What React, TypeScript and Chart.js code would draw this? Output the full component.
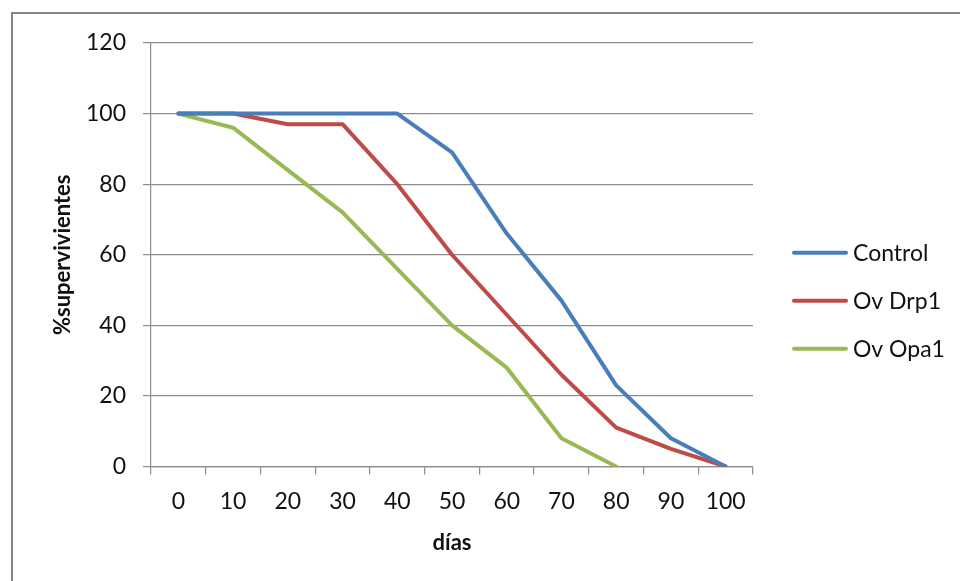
import React, { useEffect, useRef } from "react";
import { Chart, registerables } from "chart.js";

Chart.register(...registerables);

const dias = ["0", "10", "20", "30", "40", "50", "60", "70", "80", "90", "100"];
const control = [100, 100, 100, 100, 100, 89, 66, 47, 23, 8, 0];
const ovDrp1 = [100, 100, 97, 97, 80, 60, 43, 26, 11, 5, 0];
const ovOpa1 = [100, 96, 84, 72, 56, 40, 28, 8, 0, null, null];

const FONT = "Lato, 'Open Sans', 'Liberation Sans', sans-serif";
const GRID = "#8c8c8c";
const TEXT = "#111111";

// Outer frame around the chart object
const framePlugin = {
  id: "frame",
  beforeDraw(chart: any) {
    const ctx = chart.ctx;
    ctx.save();
    ctx.fillStyle = "#ffffff";
    ctx.fillRect(0, 0, chart.width, chart.height);
    ctx.strokeStyle = "#868686";
    ctx.lineWidth = 2;
    ctx.strokeRect(12, 13, chart.width + 100, chart.height + 100);
    ctx.restore();
  },
};

// Legend drawn to the right of the plot area
const sideLegendPlugin = {
  id: "sideLegend",
  afterDraw(chart: any) {
    const { ctx, chartArea } = chart;
    const x0 = chartArea.right + 41;
    const x1 = x0 + 52;
    const yStart = (chartArea.top + chartArea.bottom) / 2 - 2;
    ctx.save();
    ctx.font = `23px ${FONT}`;
    ctx.textBaseline = "middle";
    ctx.textAlign = "left";
    chart.data.datasets.forEach((ds: any, i: number) => {
      const y = yStart + i * 48;
      ctx.strokeStyle = ds.borderColor;
      ctx.lineWidth = 4;
      ctx.lineCap = "round";
      ctx.beginPath();
      ctx.moveTo(x0, y);
      ctx.lineTo(x1, y);
      ctx.stroke();
      ctx.fillStyle = TEXT;
      ctx.fillText(ds.label, x1 + 7, y + 1);
    });
    ctx.restore();
  },
};

export default function App() {
  const canvasRef = useRef<HTMLCanvasElement | null>(null);

  useEffect(() => {
    const canvas = canvasRef.current;
    if (!canvas) return;
    const chart = new Chart(canvas, {
      type: "line",
      data: {
        labels: dias,
        datasets: [
          { label: "Control", data: control, borderColor: "#4A7EBB", backgroundColor: "#4A7EBB" },
          { label: "Ov Drp1", data: ovDrp1, borderColor: "#BE4B48", backgroundColor: "#BE4B48" },
          { label: "Ov Opa1", data: ovOpa1 as any, borderColor: "#98B954", backgroundColor: "#98B954" },
        ],
      },
      options: {
        responsive: false,
        animation: false,
        layout: { padding: { top: 43, right: 207, bottom: 0, left: 0 } },
        elements: {
          line: { borderWidth: 4, tension: 0, borderJoinStyle: "round", borderCapStyle: "round" },
          point: { radius: 0, hoverRadius: 0 },
        },
        spanGaps: false,
        plugins: {
          legend: { display: false },
          tooltip: { enabled: false },
          title: { display: false },
        },
        scales: {
          x: {
            type: "category",
            offset: true,
            grid: {
              offset: true,
              drawOnChartArea: false,
              drawTicks: true,
              tickLength: 8,
              color: GRID,
              lineWidth: 1.2,
            },
            border: { color: GRID, width: 1.2 },
            ticks: {
              color: TEXT,
              font: { family: FONT, size: 23 },
              padding: 13,
              maxRotation: 0,
              autoSkip: false,
            },
            title: {
              display: true,
              text: "días",
              color: TEXT,
              font: { family: FONT, size: 22, weight: "bold" },
              padding: { top: 0, bottom: 25 },
            },
            afterFit(scale: any) {
              scale.height = 114.5;
            },
          },
          y: {
            min: 0,
            max: 120,
            ticks: {
              stepSize: 20,
              color: TEXT,
              font: { family: FONT, size: 23 },
              padding: 17,
            },
            grid: {
              color: GRID,
              lineWidth: 1.2,
              drawTicks: true,
              tickLength: 8,
            },
            border: { color: GRID, width: 1.2 },
            title: {
              display: true,
              text: "%supervivientes",
              color: TEXT,
              font: { family: FONT, size: 22, weight: "bold" },
              padding: { top: 50, bottom: 0 },
            },
            afterFit(scale: any) {
              scale.width = 151;
            },
          },
        },
      },
      plugins: [framePlugin, sideLegendPlugin],
    });
    return () => chart.destroy();
  }, []);

  return (
    <div style={{ position: "absolute", left: 0, top: 0, width: 960, height: 581 }}>
      <canvas ref={canvasRef} width={960} height={581} style={{ display: "block" }} />
    </div>
  );
}
